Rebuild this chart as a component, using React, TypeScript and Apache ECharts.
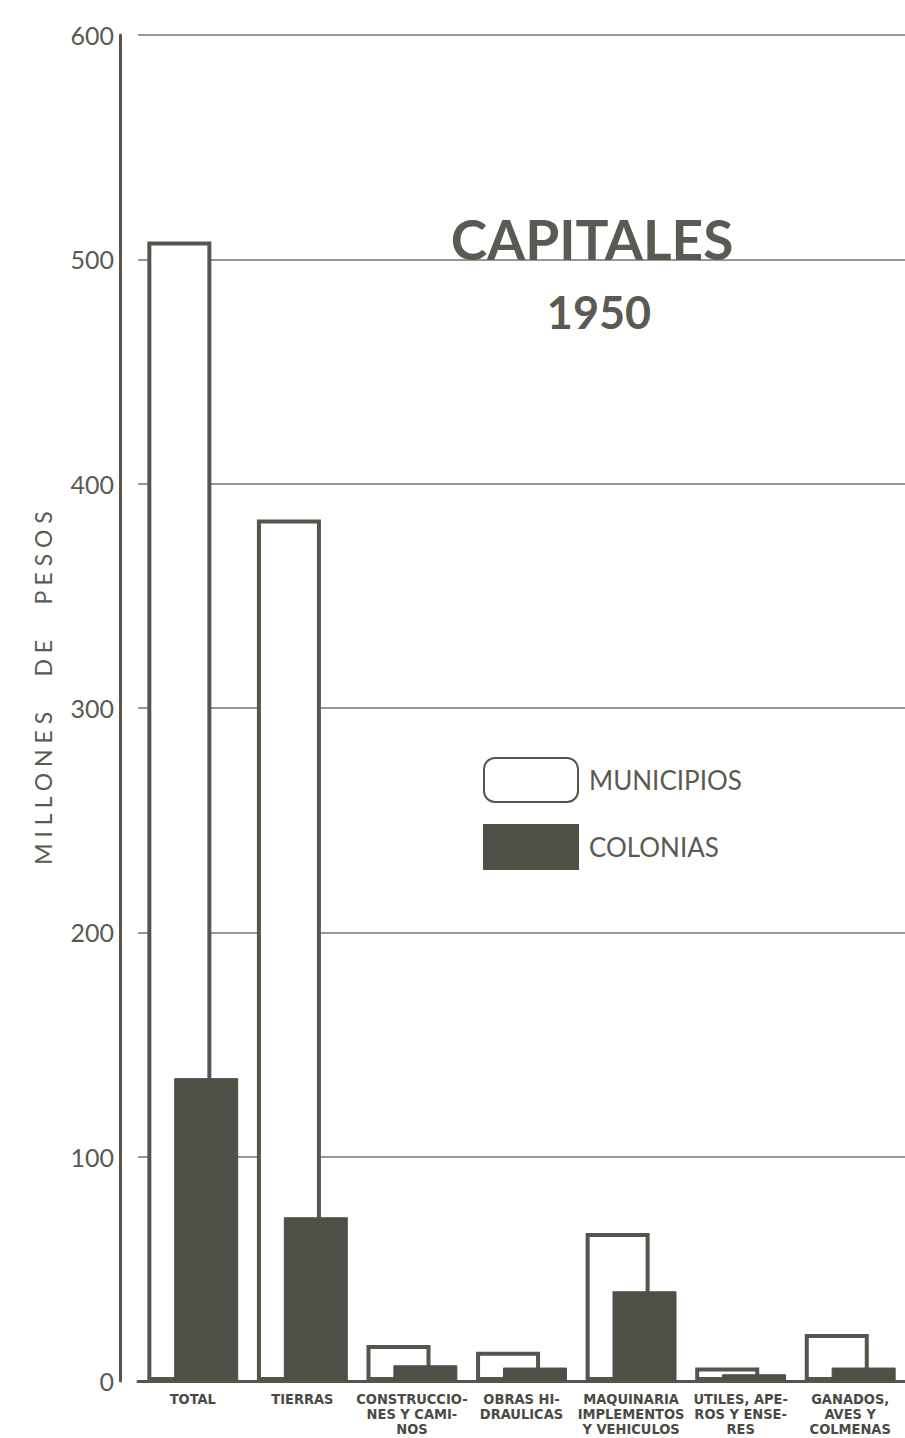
import React, { useEffect, useRef } from "react";
import * as echarts from "echarts";

const categories = [
  "TOTAL",
  "TIERRAS",
  "CONSTRUCCIO-\nNES Y CAMI-\nNOS",
  "OBRAS HI-\nDRAULICAS",
  "MAQUINARIA\nIMPLEMENTOS\nY VEHICULOS",
  "UTILES, APE-\nROS Y ENSE-\nRES",
  "GANADOS,\nAVES Y\nCOLMENAS",
];
const municipios = [508, 384, 16, 13, 66, 6, 21];
const colonias = [135, 73, 7, 6, 40, 3, 6];
const yTicks = { min: 0, max: 600, interval: 100 };
const titleLines = ["CAPITALES", "1950"];
const yAxisTitle = "M I L L O N E S      D E      P E S O S";

const INK = "#55554d";
const TEXT = "#5a5a52";
const FILL = "#4f4f47";

export default function App() {
  const ref = useRef<HTMLDivElement>(null);
  useEffect(() => {
    if (!ref.current) return;
    const chart = echarts.init(ref.current, null, { renderer: "svg" });
    chart.setOption({
      animation: false,
      backgroundColor: "#ffffff",
      title: [
        {
          text: titleLines[0],
          left: 587,
          top: 206,
          textAlign: "center",
          textStyle: { fontFamily: "Lato, 'DejaVu Sans', sans-serif", fontSize: 55, fontWeight: "bold", color: TEXT },
        },
        {
          text: titleLines[1],
          left: 594,
          top: 284,
          textAlign: "center",
          textStyle: { fontFamily: "Lato, 'DejaVu Sans', sans-serif", fontSize: 45, fontWeight: "bold", color: TEXT },
        },
      ],
      legend: {
        orient: "vertical",
        left: 483,
        top: 757,
        padding: 0,
        itemWidth: 94,
        itemHeight: 44,
        itemGap: 21,
        selectedMode: false,
        textStyle: { fontFamily: "Lato, 'DejaVu Sans', sans-serif", fontSize: 26, color: TEXT, padding: [0, 0, 0, 6] },
        data: [
          { name: "MUNICIPIOS", icon: "roundRect" },
          { name: "COLONIAS", icon: "rect" },
        ],
      },
      grid: { left: 138, right: 0, top: 35, bottom: 57, containLabel: false },
      xAxis: {
        type: "category",
        data: categories,
        axisLine: { lineStyle: { color: INK, width: 3 } },
        axisTick: { show: false },
        axisLabel: {
          interval: 0,
          margin: 10,
          lineHeight: 15,
          fontFamily: "'Liberation Sans Narrow', 'DejaVu Sans Condensed', sans-serif",
          fontWeight: "bold",
          fontSize: 14.5,
          color: "#4a4a44",
        },
      },
      yAxis: {
        type: "value",
        min: yTicks.min,
        max: yTicks.max,
        interval: yTicks.interval,
        offset: 18,
        name: yAxisTitle,
        nameLocation: "middle",
        nameGap: 66,
        nameRotate: 90,
        nameTextStyle: { fontFamily: "Lato, 'DejaVu Sans', sans-serif", fontSize: 23, color: TEXT, padding: [0, 0, 0, 40] },
        axisLine: { show: true, lineStyle: { color: INK, width: 3 } },
        axisTick: { show: false },
        axisLabel: {
          margin: 6,
          fontFamily: "Lato, 'DejaVu Sans', sans-serif",
          fontSize: 25,
          color: TEXT,
        },
        splitLine: { show: true, lineStyle: { color: "#76766e", width: 1.5 } },
      },
      series: [
        {
          name: "MUNICIPIOS",
          type: "bar",
          data: municipios,
          barWidth: 64,
          barGap: "-58%",
          z: 2,
          itemStyle: { color: "#ffffff", borderColor: INK, borderWidth: 4 },
        },
        {
          name: "COLONIAS",
          type: "bar",
          data: colonias,
          barWidth: 64,
          z: 3,
          itemStyle: { color: FILL, borderColor: FILL, borderWidth: 1 },
        },
      ],
    });
    return () => chart.dispose();
  }, []);
  return (
    <div
      ref={ref}
      style={{ position: "absolute", left: 0, top: 0, width: 905, height: 1438 }}
    />
  );
}
